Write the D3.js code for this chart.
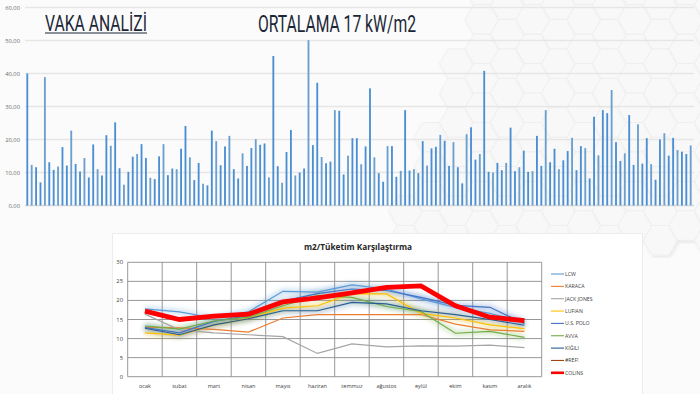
<!DOCTYPE html>
<html>
<head>
<meta charset="utf-8">
<script src="https://cdn.jsdelivr.net/npm/d3@7"></script>
<style>
body{margin:0;background:#fff;}
svg{display:block;font-family:"Open Sans",sans-serif;}
</style>
</head>
<body>
<svg id="chart" width="700" height="394"></svg>
<script>
// top chart: per-case values (kW/m2)
let vakaValues = [
  40.0,12.3,11.6,7.0,38.9,13.1,10.8,11.8,17.7,12.1,22.7,12.6,10.3,14.4,8.5,18.5,11.0,9.1,21.3,18.1,
  25.2,11.3,6.3,10.2,14.8,15.6,18.6,14.4,8.4,8.0,14.9,18.6,9.2,11.2,11.0,17.2,24.1,14.6,7.7,12.9,
  6.6,6.1,22.7,19.5,12.2,17.9,21.1,11.0,8.2,15.8,12.0,17.4,20.1,18.4,18.8,8.5,45.3,11.9,6.9,16.2,
  22.9,9.1,10.0,11.2,50.1,18.3,37.2,14.7,12.8,13.3,28.9,28.7,9.4,15.1,20.4,20.4,12.5,17.9,35.5,14.6,
  9.8,7.2,18.0,18.0,8.7,10.5,28.9,10.6,11.0,9.8,19.5,12.1,17.3,17.8,21.4,19.6,12.0,19.2,11.6,6.7,
  21.6,23.7,13.9,15.6,40.8,10.2,10.0,12.9,10.7,12.9,23.6,10.4,11.6,16.6,10.2,10.4,21.1,12.0,28.9,13.1,
  17.2,11.0,13.7,16.5,20.5,10.7,18.0,17.4,8.2,26.9,15.2,28.9,28.0,35.0,19.2,13.5,15.8,27.4,12.3,24.6,
  12.7,20.4,12.5,7.8,20.0,21.9,15.1,20.5,16.8,16.3,15.6,18.2
]
let vakaTicks = [0,10,20,30,40,50,60]

// bottom chart: monthly m2 consumption per brand
let months = ["ocak","subat","mart","nisan","mayıs","haziran","temmuz","ağustos","eylül","ekim","kasım","aralık"]
let brands = ["LCW","KARACA","JACK JONES","LUFIAN","U.S. POLO","AVVA","KİĞILI","#REF!","COLINS"]
let brandColors = ["#5b9bd5","#ed7d31","#a5a5a5","#ffc000","#4472c4","#70ad47","#255e91","#9e480e","#ff0000"]
let lcw       = [17.8,17.0,15.4,17.0,22.4,22.2,24.1,23.0,20.4,18.2,16.6,14.3]
let karaca    = [13.0,12.8,12.4,11.7,15.4,16.3,16.3,16.3,16.3,13.8,12.3,11.9]
let jackJones = [16.4,12.3,11.5,11.0,10.5,6.1,8.6,7.8,8.1,8.0,8.3,7.6]
let lufian    = [11.5,10.9,13.5,15.3,18.0,18.6,21.8,21.7,16.6,15.4,13.6,12.6]
let usPolo    = [12.9,11.5,14.5,16.0,19.8,21.8,23.0,22.6,20.8,18.7,18.2,13.9]
let avva      = [13.3,12.5,14.6,15.6,18.6,21.3,20.8,18.4,17.1,11.4,11.9,10.3]
let kigili    = [12.7,11.0,13.6,15.2,17.3,17.3,19.5,19.1,17.3,16.3,15.0,13.5]
let refErr    = []
let colins    = [17.2,15.0,15.9,16.4,19.6,20.7,22.0,23.4,23.8,18.6,15.6,14.7]
let lineTicks = [0,5,10,15,20,25,30]

let svg = d3.select("#chart")
let defs = svg.append("defs")

defs.append("filter").attr("id","glow")
    .attr("x","-20%").attr("y","-50%").attr("width","140%").attr("height","200%")
  .append("feGaussianBlur").attr("stdDeviation",2.6)

defs.append("filter").attr("id","hexShadow")
  .append("feDropShadow")
    .attr("dx",1.5).attr("dy",2).attr("stdDeviation",1.6)
    .attr("flood-color","#000").attr("flood-opacity",0.07)

// ---------- background hexagons (decoration) ----------
let hexR = 17
let hexPts = d3.range(6).map(i => [hexR*Math.cos(i*Math.PI/3), hexR*Math.sin(i*Math.PI/3)])
let hexCells = []
for(let c=0; c<20; c++){
  for(let r=0; r<10; r++){
    let cx = 380 + c*hexR*1.5
    let cy = r*hexR*Math.sqrt(3) + (c%2 ? hexR*Math.sqrt(3)/2 : 0) - 10
    if( cx + cy*0.35 > 470 && cy < 250 ) hexCells.push([cx,cy])
  }
}
svg.append("rect").attr("x",0).attr("y",0).attr("width",700).attr("height",394).attr("fill","#fbfbfb")
svg.append("g").selectAll("path")
  .data(hexCells)
  .enter()
  .append("path")
    .attr("transform", d => `translate(${d[0]},${d[1]})`)
    .attr("d", "M" + hexPts.join("L") + "Z")
    .attr("fill","#f8f8f8")
    .attr("stroke","#efefef")
    .attr("stroke-width",1)
    .attr("filter","url(#hexShadow)")

// ---------- top bar chart ----------
let x = d3.scaleBand()
    .domain(d3.range(vakaValues.length))
    .range([25.5, 692.5])
    .paddingInner(0.58)
    .paddingOuter(0.2)

let y = d3.scaleLinear()
    .domain([0,60])
    .range([205.5, 7.5])

let fmt = v => d3.format(".2f")(v).replace(".", ",")

svg.append("g").selectAll("line")
  .data(vakaTicks)
  .enter()
  .append("line")
    .attr("x1",25).attr("x2",694)
    .attr("y1", d => y(d)).attr("y2", d => y(d))
    .attr("stroke", d => d==0 ? "#d9d9d9" : "#e6e6e6")
    .attr("stroke-width",1.3)

svg.append("g").selectAll("text")
  .data(vakaTicks)
  .enter()
  .append("text")
    .attr("x",20).attr("y", d => y(d)+2)
    .attr("text-anchor","end")
    .attr("font-size",5.8)
    .attr("fill","#6b6b6b")
    .text(fmt)

svg.append("g").selectAll(".bar")
  .data(vakaValues)
  .enter()
  .append("rect")
    .attr("class","bar")
    .attr("x", (d,i) => x(i))
    .attr("width", x.bandwidth())
    .attr("y", d => y(d))
    .attr("height", d => y(0)-y(d))
    .attr("fill", (d,i) => i%3==1 ? "#6a9fcf" : "#4a8fd4")

// titles
svg.append("text")
    .attr("x",45).attr("y",31)
    .attr("font-family","Roboto, sans-serif")
    .attr("font-size",22.5)
    .attr("fill","#1b2737")
    .attr("textLength",102).attr("lengthAdjust","spacingAndGlyphs")
    .text("VAKA ANALİZİ")
svg.append("line")
    .attr("x1",45).attr("x2",147).attr("y1",33).attr("y2",33)
    .attr("stroke","#1b2737").attr("stroke-width",1.2)

svg.append("text")
    .attr("x",258).attr("y",31.5)
    .attr("font-family","Roboto, sans-serif")
    .attr("font-size",24)
    .attr("fill","#1b2737")
    .attr("textLength",158).attr("lengthAdjust","spacingAndGlyphs")
    .text("ORTALAMA 17 kW/m2")

// ---------- bottom line chart ----------
let panel = svg.append("g")
panel.append("rect")
    .attr("x",112.5).attr("y",233.5).attr("width",530).attr("height",162)
    .attr("fill","#fff").attr("stroke","#ececec")

let lx = d3.scaleBand()
    .domain(months)
    .range([127.7, 541.7])

let ly = d3.scaleLinear()
    .domain([0,30])
    .range([376.7, 262.3])

panel.append("g").selectAll("line")
  .data(lineTicks)
  .enter()
  .append("line")
    .attr("x1",127.7).attr("x2",541.7)
    .attr("y1", d => ly(d)).attr("y2", d => ly(d))
    .attr("stroke","#8c8c8c").attr("stroke-width",0.9)

panel.append("g").selectAll("line")
  .data(months.concat(["end"]))
  .enter()
  .append("line")
    .attr("x1", (d,i) => i<months.length ? lx(d) : lx.range()[1])
    .attr("x2", (d,i) => i<months.length ? lx(d) : lx.range()[1])
    .attr("y1", ly(0)).attr("y2", ly(30))
    .attr("stroke","#8c8c8c").attr("stroke-width",0.9)

panel.append("g").selectAll("text")
  .data(lineTicks)
  .enter()
  .append("text")
    .attr("x",123).attr("y", d => ly(d)+2)
    .attr("text-anchor","end")
    .attr("font-size",5.8)
    .attr("fill","#404040")
    .text(d => d)

panel.append("g").selectAll("text")
  .data(months)
  .enter()
  .append("text")
    .attr("x", d => lx(d)+lx.bandwidth()/2)
    .attr("y",387.5)
    .attr("text-anchor","middle")
    .attr("font-size",5.5)
    .attr("fill","#404040")
    .text(d => d)

panel.append("text")
    .attr("x",358).attr("y",250)
    .attr("text-anchor","middle")
    .attr("font-size",8.6)
    .attr("font-weight","bold")
    .attr("fill","#262626")
    .attr("textLength",108).attr("lengthAdjust","spacingAndGlyphs")
    .text("m2/Tüketim Karşılaştırma")

let seriesValues = [lcw, karaca, jackJones, lufian, usPolo, avva, kigili, refErr, colins]
let series = brands.map((b,i) => ({name:b, color:brandColors[i], values:seriesValues[i]}))

let line = d3.line()
    .x((d,i) => lx(months[i]) + lx.bandwidth()/2)
    .y(d => ly(d))

let glowed = ["LCW","U.S. POLO","LUFIAN","AVVA","KİĞILI"]
panel.append("g").selectAll("path")
  .data(series.filter(s => glowed.includes(s.name)))
  .enter()
  .append("path")
    .attr("d", s => line(s.values))
    .attr("fill","none")
    .attr("stroke", s => s.color)
    .attr("stroke-width",5)
    .attr("stroke-opacity",0.32)
    .attr("filter","url(#glow)")

panel.append("g").selectAll("path")
  .data(series.filter(s => s.values.length))
  .enter()
  .append("path")
    .attr("d", s => line(s.values))
    .attr("fill","none")
    .attr("stroke", s => s.color)
    .attr("stroke-width", s => s.name=="COLINS" ? 4.8 : 1.2)
    .attr("stroke-linejoin","miter")

// legend
let legend = panel.append("g").selectAll("g")
  .data(series)
  .enter()
  .append("g")
    .attr("transform", (d,i) => `translate(551,${274 + i*12.35})`)

legend.append("line")
    .attr("x1",0).attr("x2",13)
    .attr("stroke", d => d.color)
    .attr("stroke-width", d => d.name=="COLINS" ? 2.6 : 1.1)

legend.append("text")
    .attr("x",14).attr("y",1.9)
    .attr("font-size",5.2)
    .attr("fill","#404040")
    .text(d => d.name)
</script>
</body>
</html>
